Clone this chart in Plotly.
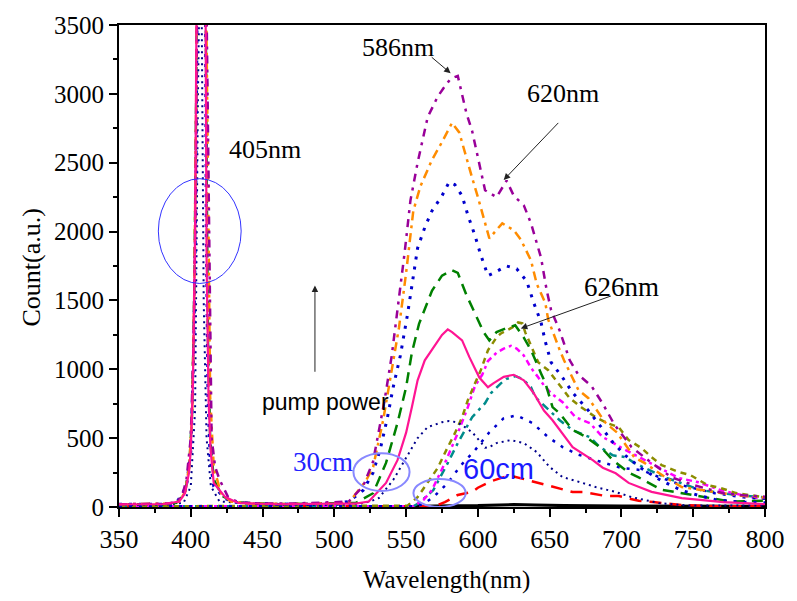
import plotly.graph_objects as go

# ---- emission spectra (wavelength in nm, counts in a.u.) ----
# 30 cm group, increasing pump power
purple_wl = [350, 370, 385, 390, 394, 397, 400, 402, 403.5, 404.3, 405, 410, 411, 412.5, 413.5, 414.5, 417, 420, 426, 432, 438, 450, 470, 490, 500, 510, 520, 527, 535, 540, 545, 549, 553, 558, 565, 572, 576, 581, 586, 592, 596, 601, 605, 613, 620, 625, 632, 637, 644, 648, 651, 657, 664, 670, 679, 687, 695, 707, 721, 735, 750, 771, 785, 800]
purple_ct = [20, 20, 25, 35, 80, 200, 500, 1200, 2300, 3600, 4500, 4500, 3500, 2000, 1000, 500, 290, 200, 72, 40, 30, 25, 25, 28, 35, 40, 150, 330, 775, 1100, 1500, 1850, 2225, 2500, 2830, 2980, 3040, 3110, 3130, 2860, 2730, 2490, 2300, 2250, 2370, 2260, 2190, 2060, 1810, 1570, 1430, 1280, 1065, 960, 880, 750, 600, 435, 320, 215, 160, 100, 85, 75]

orange_wl = [350, 370, 385, 392, 396, 399, 401, 402.5, 403.8, 404.5, 410, 411, 412.3, 413.5, 416, 421, 428, 440, 470, 500, 510, 522, 527, 534, 539, 545, 550, 555, 560, 568, 575, 582, 587, 591, 596, 600, 608, 612, 617, 625, 630, 637, 641, 647, 649, 657, 660, 670, 677, 689, 697, 709, 716, 730, 742, 771, 785, 800]
orange_ct = [20, 20, 25, 40, 110, 300, 700, 1600, 3000, 4500, 4500, 3400, 1800, 800, 290, 100, 40, 25, 22, 25, 30, 190, 290, 630, 940, 1300, 1700, 2150, 2330, 2520, 2650, 2790, 2720, 2565, 2390, 2250, 1950, 2000, 2060, 2010, 1940, 1790, 1620, 1480, 1360, 1140, 1065, 850, 790, 610, 540, 360, 320, 220, 145, 100, 80, 70]

blue30_wl = [350, 380, 390, 397, 400, 402, 403.5, 404.3, 405, 410, 410.8, 412, 413.5, 416, 424, 433, 460, 500, 510, 520, 527, 532, 537, 541, 546, 551, 554, 558, 563, 568, 575, 580, 584, 589, 593, 598, 602, 607, 611, 615, 620, 627, 634, 639, 644, 647, 651, 659, 666, 677, 685, 694, 702, 714, 728, 742, 755, 767, 785, 800]
blue30_ct = [20, 20, 30, 150, 400, 1100, 2200, 3600, 4500, 4500, 2000, 800, 350, 150, 60, 30, 20, 25, 40, 120, 250, 420, 650, 870, 1100, 1400, 1600, 1880, 2030, 2150, 2260, 2360, 2340, 2260, 2120, 1970, 1830, 1680, 1700, 1720, 1750, 1730, 1640, 1480, 1340, 1200, 1050, 940, 830, 700, 590, 470, 380, 280, 190, 120, 80, 50, 35, 30]

green_wl = [350, 380, 390, 396, 399, 401, 402.5, 403.8, 404.5, 410, 411, 412, 413.5, 416, 422, 430, 460, 500, 515, 527, 536, 544, 550, 554, 559, 568, 575, 582, 586, 592, 598, 604, 608, 613, 620, 626, 632, 637, 644, 647, 652, 657, 666, 675, 687, 694, 705, 712, 728, 755, 776, 800]
green_ct = [20, 20, 30, 100, 300, 700, 1600, 3000, 4500, 4500, 2500, 1200, 500, 200, 80, 35, 20, 25, 30, 100, 320, 610, 870, 1120, 1330, 1570, 1680, 1720, 1700, 1540, 1400, 1270, 1210, 1270, 1300, 1320, 1230, 1140, 970, 900, 725, 680, 560, 510, 420, 340, 250, 215, 125, 75, 40, 45]

pink_wl = [350, 380, 392, 396, 398.7, 400, 401.5, 403, 404, 405, 410, 411, 412.4, 413.8, 416, 424, 433, 460, 500, 515, 524, 536, 544, 550, 554, 558, 563, 569, 575, 579, 582, 589, 594, 601, 607, 611, 618, 625, 632, 639, 646, 652, 659, 666, 680, 687, 696, 705, 721, 742, 771, 800]
pink_ct = [20, 20, 40, 100, 246, 413, 900, 2000, 3600, 4500, 4500, 1800, 775, 413, 174, 72, 29, 20, 25, 25, 40, 175, 340, 540, 725, 920, 1065, 1160, 1250, 1290, 1270, 1210, 1090, 940, 870, 900, 945, 960, 920, 825, 700, 630, 535, 435, 340, 285, 245, 175, 110, 65, 35, 20]

navy_wl = [350, 380, 395, 400, 403, 405, 407, 408, 409, 411, 414, 420, 460, 500, 515, 525, 531, 541, 548, 554, 558, 565, 575, 580, 585, 589, 596, 602, 605, 608, 613, 618, 623, 632, 641, 650, 659, 671, 682, 696, 707, 726, 748, 800]
navy_ct = [15, 15, 30, 150, 700, 3000, 4500, 3000, 1500, 500, 150, 40, 15, 15, 20, 40, 65, 196, 320, 435, 500, 580, 616, 625, 616, 594, 543, 471, 430, 435, 464, 475, 486, 464, 399, 290, 217, 181, 145, 109, 72, 29, 10, 10]

# 60 cm group
olive_wl = [350, 450, 540, 551, 558, 565, 572, 578, 584, 589, 593, 598, 602, 607, 613, 616, 624, 628, 631, 633, 638, 642, 649, 657, 664, 672, 682, 690, 698, 705, 714, 721, 728, 740, 748, 760, 769, 780, 792, 800]
olive_ct = [5, 5, 5, 10, 72, 174, 283, 413, 536, 652, 775, 898, 993, 1138, 1232, 1260, 1304, 1340, 1333, 1268, 1150, 1051, 993, 884, 790, 725, 652, 610, 580, 486, 428, 362, 304, 254, 232, 159, 138, 101, 80, 70]

magenta_wl = [350, 450, 555, 562, 568, 577, 586, 593, 598, 603, 607, 613, 618, 623, 627, 632, 637, 642, 646, 651, 659, 668, 678, 687, 692, 700, 716, 723, 740, 753, 770, 790, 800]
magenta_ct = [5, 5, 5, 50, 123, 319, 536, 725, 880, 960, 1060, 1120, 1150, 1170, 1150, 1100, 1010, 942, 884, 826, 761, 652, 609, 507, 480, 430, 340, 304, 210, 181, 120, 72, 60]

teal_wl = [350, 450, 555, 559, 569, 579, 586, 596, 605, 609, 616, 620, 626, 631, 637, 640, 650, 657, 666, 678, 685, 694, 703, 709, 730, 755, 780, 800]
teal_ct = [5, 5, 5, 29, 123, 319, 464, 652, 754, 826, 898, 930, 950, 930, 870, 797, 703, 630, 558, 507, 435, 375, 362, 319, 217, 123, 87, 70]

blue60_wl = [350, 450, 555, 562, 569, 579, 588, 598, 608, 618, 627, 638, 649, 659, 670, 685, 700, 714, 728, 745, 765, 785, 800]
blue60_ct = [5, 5, 5, 20, 72, 174, 300, 413, 543, 645, 665, 610, 507, 435, 380, 330, 283, 268, 210, 150, 100, 70, 60]

red_wl = [350, 450, 560, 570, 577, 586, 596, 600, 610, 618, 625, 633, 641, 648, 666, 673, 689, 698, 712, 722, 742, 767, 800]
red_ct = [5, 5, 5, 5, 36, 87, 109, 140, 190, 217, 222, 200, 174, 159, 109, 109, 80, 80, 45, 36, 15, 5, 5]

black_wl = [555, 570, 600, 612, 625, 640, 660, 700, 750, 800]
black_ct = [3, 8, 10, 15, 18, 15, 10, 8, 6, 5]

SERIF = "Times New Roman, Liberation Serif, serif"
SANS = "Arial, Liberation Sans, sans-serif"

series = [
    (black_wl, black_ct, "#000000", "solid", 3),
    (red_wl, red_ct, "#FF0000", "12px,8px", 2.5),
    (teal_wl, teal_ct, "#008B8B", "8px,5px,3px,5px", 2.5),
    (magenta_wl, magenta_ct, "#FF00FF", "6px,4px,3px,4px", 2.5),
    (olive_wl, olive_ct, "#8C8C00", "6px,5px", 2.5),
    (blue60_wl, blue60_ct, "#0000CC", "3px,7px", 2.5),
    (navy_wl, navy_ct, "#00008B", "2px,4px", 2),
    (green_wl, green_ct, "#008000", "11px,7px", 2.5),
    (blue30_wl, blue30_ct, "#0000CC", "3px,7px", 3),
    (orange_wl, orange_ct, "#FF8C00", "9px,5px,3px,5px", 2.5),
    (purple_wl, purple_ct, "#990099", "8px,6px,3px,6px", 2.5),
    (pink_wl, pink_ct, "#FF1493", "solid", 2.2),
]

fig = go.Figure()
for wl, ct, color, dash, width in series:
    fig.add_trace(go.Scatter(x=wl, y=ct, mode="lines",
                             line=dict(color=color, dash=dash, width=width),
                             showlegend=False, hoverinfo="skip"))

# circled regions
fig.add_shape(type="circle", xref="x", yref="y", x0=377.4, x1=435.1, y0=1623, y1=2384,
              line=dict(color="#3333FF", width=1))
fig.add_shape(type="circle", xref="x", yref="y", x0=513.3, x1=552.4, y0=116, y1=391,
              line=dict(color="#8888FF", width=2))
fig.add_shape(type="circle", xref="x", yref="y", x0=555.1, x1=591.5, y0=0, y1=203,
              line=dict(color="#8888FF", width=2))

def label(x, y, text, size=26, family=SERIF, color="black"):
    fig.add_annotation(x=x, y=y, xref="x", yref="y", text=text, showarrow=False,
                       xanchor="center", yanchor="middle",
                       font=dict(family=family, size=size, color=color))

def arrow(x0, y0, x1, y1, size=1.3):
    fig.add_annotation(x=x1, y=y1, ax=x0, ay=y0, xref="x", yref="y", axref="x", ayref="y",
                       text="", showarrow=True, arrowhead=2, arrowsize=size,
                       arrowwidth=1, arrowcolor="#222222")

label(544, 3340, "586nm")
label(659, 3000, "620nm")
label(451.5, 2594, "405nm")
label(700, 1601, "626nm", size=27)
label(494, 761, "pump power", size=23, family=SANS)
label(492, 326, "30cm", size=27, color="#2222FF")
label(614.5, 275, "60cm", size=29, family=SANS, color="#1A1AFF")

arrow(566.8, 3275, 581, 3150)
arrow(657, 2800, 618, 2375)
arrow(693.7, 1536, 629.9, 1297)
arrow(486.5, 971, 486.5, 1609)

# axis titles
fig.add_annotation(x=0.507, y=-0.151, xref="paper", yref="paper", text="Wavelength(nm)",
                   xanchor="center", yanchor="middle",
                   showarrow=False, font=dict(family=SERIF, size=25, color="black"))
fig.add_annotation(x=-0.136, y=0.497, xref="paper", yref="paper", text="Count(a.u.)",
                   xanchor="center", yanchor="middle",
                   textangle=-90, showarrow=False, font=dict(family=SERIF, size=26, color="black"))

axis_common = dict(showgrid=False, zeroline=False, showline=True, linecolor="black",
                   linewidth=2, mirror=True, ticks="outside", ticklen=8, tickwidth=2,
                   tickcolor="black")

fig.update_xaxes(range=[350, 800], dtick=50, tick0=350,
                 tickfont=dict(family=SERIF, size=26, color="black"),
                 minor=dict(dtick=25, ticks="outside", ticklen=4, tickwidth=1.5, tickcolor="black"),
                 **axis_common)
fig.update_yaxes(range=[0, 3500], dtick=500, tick0=0,
                 tickfont=dict(family=SERIF, size=25, color="black"),
                 minor=dict(dtick=250, ticks="outside", ticklen=4, tickwidth=1.5, tickcolor="black"),
                 **axis_common)

fig.update_layout(width=797, height=601, margin=dict(l=119, r=21, t=24, b=94),
                  paper_bgcolor="white", plot_bgcolor="white",
                  font=dict(family=SERIF, color="black"))

fig.write_html("out.html")
